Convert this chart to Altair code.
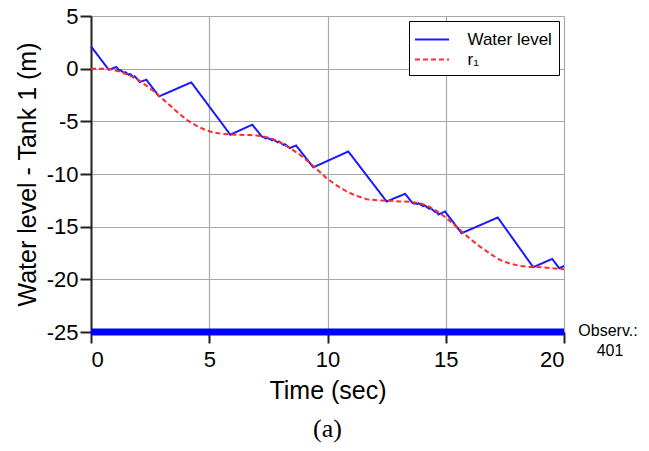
import altair as alt
import pandas as pd

# Water level (measured) series
wl_t = [0, 0.75, 1.07, 1.2, 1.25, 1.4, 1.45, 1.6, 1.65, 1.8, 1.85, 2.06, 2.34, 2.88,
        4.24, 5.89, 6.82, 7.22, 7.4, 7.45, 7.65, 7.7, 7.9, 7.95, 8.15, 8.2, 8.41, 8.67,
        9.40, 10.88, 12.50, 13.28, 13.6, 13.8, 13.85, 14.05, 14.1, 14.3, 14.35, 14.55,
        14.6, 14.69, 14.97, 15.67, 17.2, 18.70, 19.5, 19.8, 20]
wl_y = [2.12, -0.1, 0.16, -0.2, -0.15, -0.4, -0.33, -0.58, -0.5, -0.8, -0.72, -1.27, -1.05, -2.63,
        -1.3, -6.27, -5.32, -6.43, -6.62, -6.55, -6.8, -6.72, -7.0, -6.92, -7.25, -7.17, -7.54, -7.29,
        -9.37, -7.86, -12.61, -11.88, -12.77, -12.85, -12.78, -13.05, -12.97, -13.3, -13.22, -13.6,
        -13.52, -13.85, -13.56, -15.62, -14.13, -18.85, -18.06, -18.95, -18.73]

# Reference r1 series
r_t = [0, 0.5, 0.8, 1.0, 1.28, 1.6, 1.99, 2.4, 2.83, 3.2, 3.54, 3.8, 4.10, 4.45, 4.81, 5.15,
       5.51, 5.9, 6.22, 6.72, 7.0, 7.3, 7.57, 8.0, 8.41, 8.85, 9.26, 9.6, 9.96, 10.4, 10.81,
       11.2, 11.66, 12.1, 12.64, 13.07, 13.5, 13.91, 14.3, 14.76, 15.2, 15.6, 16.0, 16.45,
       16.9, 17.29, 17.7, 18.14, 18.6, 18.99, 19.5, 20]
r_y = [0, 0, -0.05, -0.15, -0.32, -0.62, -1.05, -1.7, -2.47, -3.2, -3.9, -4.4, -4.94, -5.4, -5.8, -6.05,
       -6.18, -6.25, -6.27, -6.3, -6.35, -6.45, -6.59, -7.0, -7.54, -8.2, -8.97, -9.65, -10.39, -11.1, -11.66,
       -12.05, -12.39, -12.5, -12.55, -12.6, -12.65, -12.77, -13.1, -13.72, -14.5, -15.3, -16.1, -16.9,
       -17.6, -18.16, -18.5, -18.73, -18.82, -18.85, -18.95, -19.04]

series_names = ["Water level", "r\u2081"]
series_colors = ["#1a1aff", "#ff2a2a"]

obs_t = [0, 20]
obs_y = [-25, -25]
obs_labels = ["Observ.:", "401"]

x_ticks = [0, 5, 10, 15, 20]
y_ticks = [-25, -20, -15, -10, -5, 0, 5]

df = pd.concat([
    pd.DataFrame({"t": wl_t, "y": wl_y, "series": series_names[0], "ord": range(len(wl_t))}),
    pd.DataFrame({"t": r_t, "y": r_y, "series": series_names[1], "ord": range(len(r_t))}),
])
obs_df = pd.DataFrame({"t": obs_t, "y": obs_y})
lab1 = pd.DataFrame({"t": [obs_t[1]], "y": [obs_y[1]], "label": [obs_labels[0]]})
lab2 = pd.DataFrame({"t": [obs_t[1]], "y": [obs_y[1]], "label": [obs_labels[1]]})

FONT = "Liberation Sans"

xenc = alt.X("t:Q", scale=alt.Scale(domain=[0, 20], nice=False),
             axis=alt.Axis(title="Time (sec)", values=x_ticks, labelExpr="datum.value + ''"))
yenc = alt.Y("y:Q", scale=alt.Scale(domain=[-25, 5], nice=False),
             axis=alt.Axis(title="Water level - Tank 1 (m)", values=y_ticks, labelExpr="datum.value + ''"))

legend = alt.Legend(title=None, orient="none", legendX=318, legendY=5,
                    symbolType="M-1.62,0H1.62", symbolSize=441, symbolStrokeWidth=2,
                    symbolOffset=4.5,
                    labelFontSize=17, labelFont=FONT, labelColor="black",
                    strokeColor="black", fillColor="white", padding=7,
                    rowPadding=0, labelOffset=24, cornerRadius=0)

lines = alt.Chart(df).mark_line(strokeWidth=2).encode(
    x=xenc, y=yenc,
    color=alt.Color("series:N", scale=alt.Scale(domain=series_names, range=series_colors),
                    sort=series_names, legend=legend),
    strokeDash=alt.StrokeDash("series:N", scale=alt.Scale(domain=series_names, range=[[1, 0], [5, 3]]),
                              sort=series_names, legend=legend),
    order="ord:Q",
)

obs = alt.Chart(obs_df).mark_line(strokeWidth=7, color="#0000ff", strokeCap="butt").encode(
    x="t:Q", y="y:Q")

t1 = alt.Chart(lab1).mark_text(font=FONT, fontSize=16, dx=44, dy=-1, color="black").encode(
    x="t:Q", y="y:Q", text="label:N")
t2 = alt.Chart(lab2).mark_text(font=FONT, fontSize=16, dx=46, dy=19, color="black").encode(
    x="t:Q", y="y:Q", text="label:N")

chart = alt.layer(obs, lines, t1, t2).properties(
    width=473, height=316,
    autosize=alt.AutoSizeParams(type="none"),
    padding={"left": 91, "top": 16, "right": 85, "bottom": 119},
    title=alt.TitleParams("(a)", orient="bottom", anchor="middle", font="Liberation Serif",
                          fontSize=26, fontWeight="normal", color="black", offset=13),
).configure_view(stroke=None).configure_axis(
    grid=True, gridColor="#a8a8a8", gridWidth=1.2,
    domainColor="#222222", domainWidth=2,
    tickColor="#222222", tickWidth=2, tickSize=11,
    labelFont=FONT, labelFontSize=22, labelColor="black",
    titleFont=FONT, titleFontSize=25, titleFontWeight="normal", titleColor="black",
).configure_axisX(labelPadding=6, titlePadding=8).configure_axisY(labelPadding=2, titlePadding=6)

chart.save("out.html", embed_options={"renderer": "svg", "actions": False})
